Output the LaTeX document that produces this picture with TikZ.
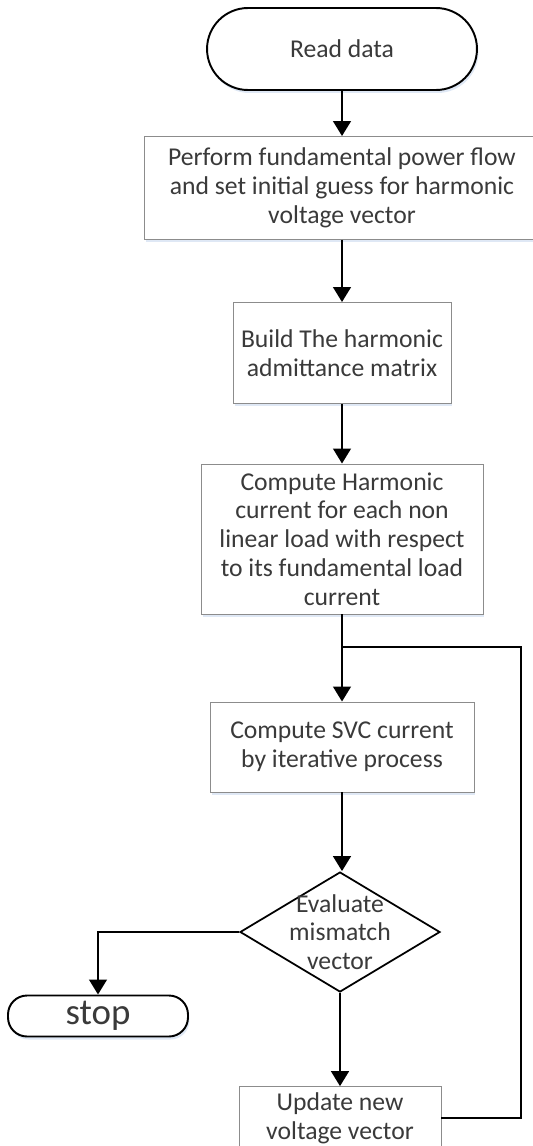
\documentclass[tikz,border=0pt]{standalone}
\usepackage{fontspec}
\setmainfont{Carlito}
\usepackage{tikz}
\usepackage{xcolor}
\usetikzlibrary{arrows.meta, shapes.geometric, shadows}

\definecolor{boxgray}{HTML}{8C8C8C}
\definecolor{txtgray}{HTML}{3A3A3A}
\definecolor{glow}{HTML}{C9D9EE}

\begin{document}
\begin{tikzpicture}[x=0.02cm, y=-0.02cm,
    font=\fontsize{14.6pt}{16.4pt}\selectfont,
    process/.style={draw=boxgray, line width=0.5pt, fill=white, text=txtgray, align=center,
        drop shadow={fill=glow, opacity=0.6, shadow xshift=0.3mm, shadow yshift=-0.6mm}},
    terminal/.style={draw=black, line width=1.1pt, fill=white, text=txtgray,
        drop shadow={fill=glow, opacity=0.6, shadow xshift=0.3mm, shadow yshift=-0.6mm}},
    decision/.style={draw=black, line width=1pt, diamond, fill=white, inner sep=0pt,
        minimum width=4cm, minimum height=2.4cm},
    line/.style={draw=black, line width=1.6pt},
    arrow/.style={line, -{Triangle[width=3.5mm, length=3mm]}}]

    \useasboundingbox (0,0) rectangle (533,1146);

    % Start
    \node[terminal, minimum width=5.4cm, minimum height=1.64cm, rounded corners=0.82cm]
        (start) at (342,49) {Read data};

    % Steps
    \node[process, minimum width=7.92cm, minimum height=2.06cm] (perform) at (342,188)
        {Perform fundamental power flow\\and set initial guess for harmonic\\voltage vector};
    \node[process, minimum width=4.36cm, minimum height=2.02cm] (build) at (342,353)
        {Build The harmonic\\admittance matrix};
    \node[process, minimum width=5.64cm, minimum height=3cm] (harm) at (342,539)
        {Compute Harmonic\\current for each non\\linear load with respect\\to its fundamental load\\current};
    \node[process, minimum width=5.28cm, minimum height=1.8cm] (svc) at (342,747)
        {Compute SVC current\\by iterative process};

    % Check
    \node[decision] (eval) at (340,932) {};
    \node[text=txtgray, align=center] (evaltext) at (eval) {Evaluate\\mismatch\\vector};

    % End and update
    \node[terminal, minimum width=3.6cm, minimum height=0.76cm, rounded corners=0.38cm,
        font=\fontsize{21pt}{24pt}\selectfont] (stop) at (98,1016) {stop};
    \node[process, minimum width=4.04cm, minimum height=1.2cm] (upd) at (340,1118)
        {Update new\\voltage vector};

    % Loop points
    \coordinate (split) at (342,647);
    \coordinate (corner) at (521,647);

    % Connectors
    \draw[arrow] (start) -- (perform);
    \draw[arrow] (perform) -- (build);
    \draw[arrow] (build) -- (harm);
    \draw[line] (harm) -- (split);
    \draw[arrow] (split) -- (svc);
    \draw[arrow] (svc.south) -- (svc.south |- eval.north);
    \draw[arrow] (eval.west) -| (stop);
    \draw[arrow] (eval) -- (upd);
    \draw[line] (upd.east) -| (corner) -- (split);
\end{tikzpicture}
\end{document}
